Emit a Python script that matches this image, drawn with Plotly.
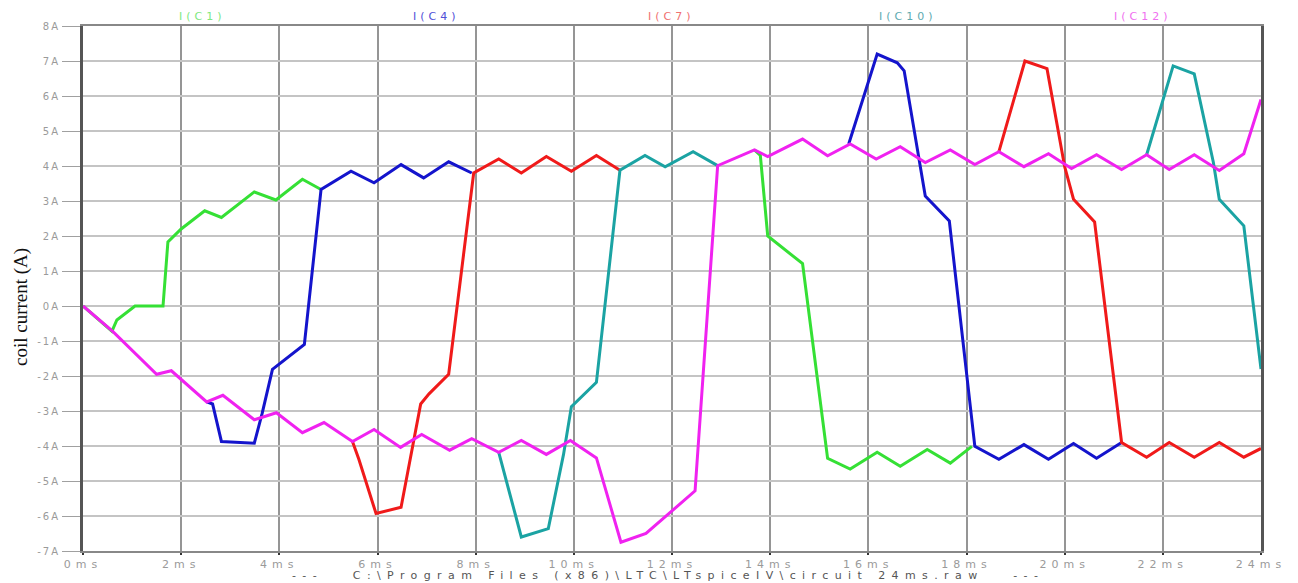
import plotly.graph_objects as go

# ---- data (time in ms, current in A); None marks a stretch hidden under other traces ----
t_c1 = [0, 0.59, 0.69, 1.06, 1.63, 1.73, 2.0, 2.48, 2.82, 3.49, 3.93, 4.47, 4.85, None,
        13.68, 13.8, 13.95, 14.66, 15.17, 15.63, 16.18, 16.65, 17.2, 17.67, 18.11]
i_c1 = [0, -0.72, -0.4, 0, 0, 1.83, 2.2, 2.72, 2.53, 3.26, 3.03, 3.62, 3.33, None,
        4.46, 4.3, 2.0, 1.21, -4.35, -4.66, -4.18, -4.58, -4.1, -4.49, -4.01]

t_c4 = [2.52, 2.64, 2.82, 3.49, 3.65, 3.86, 4.51, 4.85, 5.46, 5.93, 6.48, 6.94, 7.45, 7.92, None,
        15.6, 16.18, 16.59, 16.73, 17.16, 17.65, 18.17, 18.66, 19.17, 19.67, 20.18, 20.65, 21.16]
i_c4 = [-2.74, -2.8, -3.87, -3.92, -3.07, -1.81, -1.1, 3.33, 3.85, 3.52, 4.04, 3.66, 4.12, 3.8, None,
        4.63, 7.2, 6.95, 6.72, 3.14, 2.43, -4.01, -4.38, -3.96, -4.38, -3.93, -4.35, -3.9]

t_c7 = [5.49, 5.62, 5.97, 6.48, 6.88, 7.05, 7.45, 7.96, 8.47, 8.93, 9.44, 9.95, 10.46, 10.94, None,
        18.66, 19.19, 19.64, 20.0, 20.18, 20.61, 21.16, 21.67, 22.13, 22.64, 23.15, 23.65, 24.0]
i_c7 = [-3.87, -4.38, -5.93, -5.75, -2.8, -2.51, -1.95, 3.8, 4.2, 3.8, 4.27, 3.85, 4.3, 3.88, None,
        4.41, 7.0, 6.78, 3.98, 3.05, 2.4, -3.9, -4.32, -3.9, -4.32, -3.9, -4.32, -4.07]

t_c10 = [8.47, 8.93, 9.48, 9.79, 9.95, 10.46, 10.94, 11.45, 11.86, 12.43, 12.93, None,
         21.67, 22.21, 22.64, 23.03, 23.15, 23.65, 24.0]
i_c10 = [-4.18, -6.6, -6.36, -4.24, -2.88, -2.18, 3.88, 4.3, 3.98, 4.41, 4.01, None,
         4.32, 6.86, 6.63, 4.1, 3.05, 2.29, -1.8]

t_c12 = [0, 0.6, 1.5, 1.8, 2.52, 2.85, 3.49, 3.94, 4.47, 4.91, 5.49, 5.93, 6.47, 6.9, 7.47, 7.92,
         8.47, 8.93, 9.44, 9.93, 10.46, 10.96, 11.47, 12.47, 12.93, 13.68, 13.95, 14.66, 15.17,
         15.63, 16.16, 16.65, 17.16, 17.67, 18.17, 18.66, 19.17, 19.67, 20.14, 20.65, 21.16,
         21.67, 22.13, 22.64, 23.15, 23.65, 24.0]
i_c12 = [0, -0.72, -1.95, -1.85, -2.74, -2.55, -3.25, -3.05, -3.62, -3.33, -3.87, -3.53, -4.04,
         -3.67, -4.12, -3.79, -4.18, -3.84, -4.24, -3.84, -4.34, -6.75, -6.5, -5.28, 4.01, 4.46,
         4.27, 4.77, 4.29, 4.63, 4.2, 4.55, 4.1, 4.46, 4.04, 4.41, 3.98, 4.35, 3.93, 4.32, 3.9,
         4.32, 3.9, 4.32, 3.87, 4.35, 5.9]

series_names = ["I(C1)", "I(C4)", "I(C7)", "I(C10)", "I(C12)"]
series_t = [t_c1, t_c4, t_c7, t_c10, t_c12]
series_i = [i_c1, i_c4, i_c7, i_c10, i_c12]
colors = ["#35e035", "#1414cc", "#f01a1a", "#1ba3a3", "#f022f0"]
label_colors = ["#80e880", "#5050d8", "#f07070", "#60aab0", "#f070f0"]
label_pos_ms = [2.43, 7.2, 11.98, 16.8, 21.6]

x_tick_vals = list(range(0, 25, 2))
x_tick_text = [f'<span style="letter-spacing:5px">{v}ms</span>' for v in x_tick_vals]
y_tick_vals = list(range(-7, 9))
y_tick_text = [f'<span style="letter-spacing:2px">{v}A</span>' for v in y_tick_vals]

fig = go.Figure()
for name, t, i, c in zip(series_names, series_t, series_i, colors):
    fig.add_trace(go.Scatter(x=t, y=i, mode="lines", name=name,
                             line=dict(color=c, width=3), connectgaps=False))

for name, xpos, c in zip(series_names, label_pos_ms, label_colors):
    fig.add_annotation(x=xpos, xref="x", y=1.0, yref="paper", yanchor="bottom", yshift=1,
                       text=f'<span style="letter-spacing:4px">{name}</span>', showarrow=False,
                       font=dict(family="DejaVu Sans", size=11, color=c))

fig.add_annotation(x=0.497, xref="paper", y=-0.046, yref="paper", yanchor="middle",
                   text='<span style="letter-spacing:6.4px">---   C:\\Program Files (x86)\\LTC\\LTspiceIV\\circuit 24ms.raw   ---</span>',
                   showarrow=False,
                   font=dict(family="DejaVu Sans", size=11, color="#555555"))

fig.add_annotation(x=-0.0525, xref="paper", y=0.465, yref="paper", textangle=-90,
                   text="coil current (A)", showarrow=False,
                   xanchor="center", yanchor="middle",
                   font=dict(family="Liberation Serif", size=19, color="#111111"))

# the page body adds an 8px offset, so the figure is 8px smaller and margins shifted
fig.update_layout(
    width=1290, height=575,
    margin=dict(l=75, r=33, t=17, b=27),
    paper_bgcolor="white", plot_bgcolor="white",
    showlegend=False,
    xaxis=dict(range=[0, 24], tickvals=x_tick_vals, ticktext=x_tick_text,
               showgrid=True, gridcolor="#959595", gridwidth=2,
               zeroline=False, showline=True, linecolor="#888888", linewidth=2, mirror=True,
               ticks="outside", ticklen=2, tickcolor="#333333", tickwidth=2,
               tickfont=dict(family="DejaVu Sans", size=11, color="#9a9a9a")),
    yaxis=dict(range=[-7, 8], tickvals=y_tick_vals, ticktext=y_tick_text,
               showgrid=True, gridcolor="#c4c4c4", gridwidth=2,
               zeroline=False, showline=True, linecolor="#555555", linewidth=3, mirror=True,
               ticks="outside", ticklen=18, tickcolor="#a0a0a0", tickwidth=1,
               tickfont=dict(family="DejaVu Sans", size=10, color="#9a9a9a")),
)

fig.write_html("out.html")
